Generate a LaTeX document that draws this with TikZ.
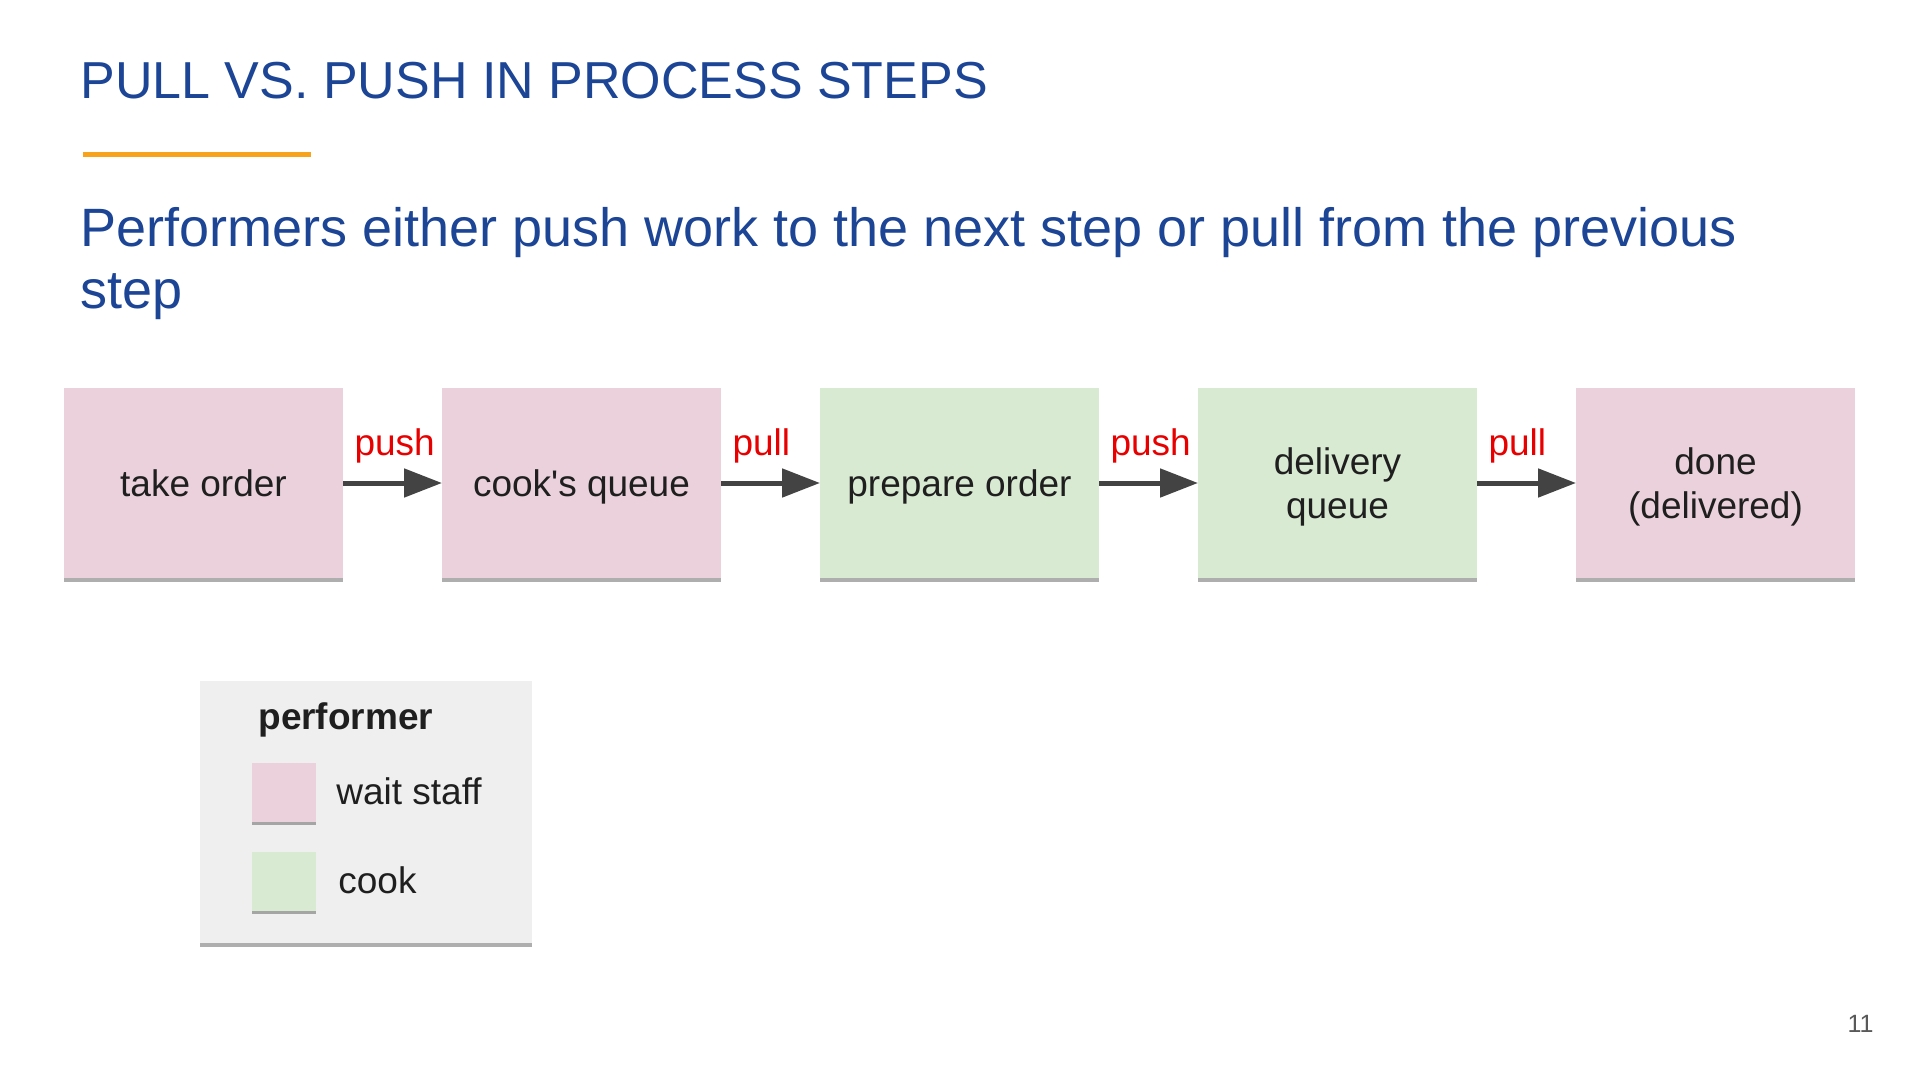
\documentclass[tikz,border=0pt]{standalone}
\usepackage{fontspec}
\setmainfont{Liberation Sans}
\usetikzlibrary{positioning,shadows,arrows.meta}

\definecolor{titleblue}{RGB}{28,69,150}
\definecolor{barorange}{RGB}{247,163,28}
\definecolor{waitpink}{RGB}{234,209,220}
\definecolor{cookgreen}{RGB}{217,234,211}
\definecolor{arrowgray}{RGB}{67,67,67}
\definecolor{verbred}{RGB}{232,0,0}
\definecolor{legendgray}{RGB}{239,239,239}

\tikzset{
  stepbox/.style={minimum width=139.5pt,minimum height=95pt,inner sep=0pt,outer sep=0pt,align=center,
    text depth=0pt,text=black!88,font=\fontsize{18.5}{22}\selectfont,
    drop shadow={shadow xshift=0pt,shadow yshift=-2pt,opacity=0.45,fill=black!70}},
  flow/.style={-{Triangle[length=19pt,width=14pt]},line width=2.5pt,draw=arrowgray},
  verb/.style={pos=0,anchor=base west,xshift=4.5pt,yshift=14pt,inner sep=0pt,
    text=verbred,font=\fontsize{18.5}{22}\selectfont},
  swatch/.style={minimum width=32pt,minimum height=29.5pt,inner sep=0pt,
    drop shadow={shadow xshift=0pt,shadow yshift=-1.5pt,opacity=0.45,fill=black!70}},
  legendtext/.style={anchor=west,inner sep=0pt,text=black!88,font=\fontsize{18.5}{22}\selectfont}
}

\begin{document}
\begin{tikzpicture}[x=0.5pt,y=-0.5pt]
  \useasboundingbox (0,0) rectangle (1920,1080);
  \fill[white] (0,0) rectangle (1920,1080);

  % heading
  \node[anchor=base west,inner sep=0pt,text=titleblue,font=\fontsize{26}{31}\selectfont] (title) at (80,99) {PULL VS. PUSH IN PROCESS STEPS};
  \draw[barorange,line width=2.5pt] (83,155) -- (311,155);
  \node[anchor=base west,inner sep=0pt,align=left,text=titleblue,font=\fontsize{27}{31}\selectfont] (subtitle) at (80,309)
    {Performers either push work to the next step or pull from the previous\\step};

  % process steps
  \node[stepbox,fill=waitpink] (take) at (203.5,483) {take order};
  \node[stepbox,fill=waitpink,right=49.5pt of take] (queue) {cook\textquotesingle s queue};
  \node[stepbox,fill=cookgreen,right=49.5pt of queue] (prepare) {prepare order};
  \node[stepbox,fill=cookgreen,right=49.5pt of prepare] (delivery) {delivery\\queue};
  \node[stepbox,fill=waitpink,right=49.5pt of delivery] (done) {done\\(delivered)};

  \draw[flow] (take) -- node[verb]{push} (queue);
  \draw[flow] (queue) -- node[verb]{pull} (prepare);
  \draw[flow] (prepare) -- node[verb]{push} (delivery);
  \draw[flow] (delivery) -- node[verb]{pull} (done);

  % legend
  \node[fill=legendgray,minimum width=166pt,minimum height=131pt,inner sep=0pt,
    drop shadow={shadow xshift=0pt,shadow yshift=-2pt,opacity=0.45,fill=black!70}] (legend) at (366,812) {};
  \node[anchor=base west,inner sep=0pt,text=black!88,font=\fontsize{18.5}{22}\selectfont\bfseries] (performer) at (258,729) {performer};
  \node[swatch,fill=waitpink] (waitsw) at (284,792) {};
  \node[legendtext] (waittxt) at (336,791) {wait staff};
  \node[swatch,fill=cookgreen] (cooksw) at (284,881) {};
  \node[legendtext] (cooktxt) at (338,880) {cook};

  \node[anchor=east,inner sep=0pt,text=black!65,font=\fontsize{12.5}{14}\selectfont] (pagenum) at (1874,1024) {11};
\end{tikzpicture}
\end{document}
